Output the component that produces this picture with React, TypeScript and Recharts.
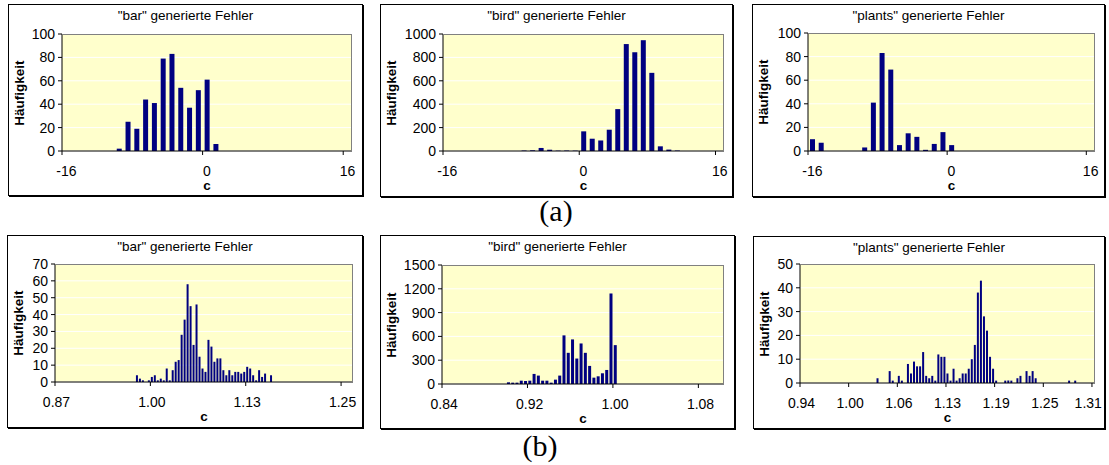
import { BarChart, Bar, XAxis, YAxis, CartesianGrid } from 'recharts';

const SANS = '"Liberation Sans", Arial, sans-serif';
const SERIF = '"Liberation Serif", "Times New Roman", serif';
const NAVY = '#000080';
const PLOT_BG = '#FFFFCC';

// (a) top row: one bin per integer value of c
const C_TOP = [-16, -15, -14, -13, -12, -11, -10, -9, -8, -7, -6, -5, -4, -3, -2, -1, 0, 1, 2, 3, 4, 5, 6, 7, 8, 9, 10, 11, 12, 13, 14, 15, 16];
const TOP_TICKS = [-16, 0, 16];
const TOP_TICK_LABELS = ['-16', '0', '16'];

const BAR_A = [0, 0, 0, 0, 0, 0, 2, 25, 19, 44, 41, 79, 83, 54, 37, 52, 61, 6, 0, 0, 0, 0, 0, 0, 0, 0, 0, 0, 0, 0, 0, 0, 0];
const BIRD_A = [0, 0, 0, 0, 0, 0, 0, 0, 0, 4, 6, 26, 11, 3, 4, 3, 168, 105, 90, 182, 358, 914, 843, 947, 668, 40, 12, 4, 0, 0, 0, 0, 0];
const PLANTS_A = [10, 7, 0, 0, 0, 0, 3, 41, 83, 69, 5, 15, 12, 1, 6, 16, 5, 0, 0, 0, 0, 0, 0, 0, 0, 0, 0, 0, 0, 0, 0, 0, 0];

const Y_TICKS_100 = [0, 20, 40, 60, 80, 100];
const Y_TICKS_1000 = [0, 200, 400, 600, 800, 1000];

// (b) bottom row: bins counted from the left of the axis, counts start at the first non-empty bin
const BAR_B_BINS = 100;
const BAR_B_FIRST = 27;
const BAR_B = [4, 2, 1, 0, 1, 3, 4, 1, 2, 1, 8, 1, 7, 12, 13, 28, 37, 58, 45, 22, 46, 15, 8, 6, 25, 21, 12, 14, 14, 7, 4, 7, 4, 6, 6, 5, 6, 9, 8, 4, 1, 7, 3, 5, 0, 4];
const BAR_B_TICKS = [0, 32, 64, 96];
const BAR_B_TICK_LABELS = ['0.87', '1.00', '1.13', '1.25'];
const BAR_B_Y = [0, 10, 20, 30, 40, 50, 60, 70];

const BIRD_B_BINS = 66;
const BIRD_B_FIRST = 15;
const BIRD_B = [21, 17, 17, 42, 38, 42, 127, 106, 42, 42, 17, 55, 106, 613, 393, 562, 321, 511, 393, 228, 80, 97, 135, 177, 1141, 490];
const BIRD_B_TICKS = [0, 20, 40, 60];
const BIRD_B_TICK_LABELS = ['0.84', '0.92', '1.00', '1.08'];
const BIRD_B_Y = [0, 300, 600, 900, 1200, 1500];

const PLANTS_B_BINS = 97;
const PLANTS_B_FIRST = 25;
const PLANTS_B = [
  2, 0, 0, 0, 5, 1, 0, 3, 1, 0,
  8, 4, 9, 7, 7, 13, 3, 2, 3, 1,
  12, 11, 11, 4, 1, 6, 1, 2, 4, 4,
  6, 10, 16, 38, 43, 28, 22, 11, 6, 1,
  0, 0, 1, 1, 1, 0, 2, 3, 0, 5,
  3, 5, 2, 0, 0, 0, 0, 0, 0, 0,
  0, 0, 0, 1, 0, 1,
];
const PLANTS_B_TICKS = [0, 16, 32, 48, 64, 80, 96];
const PLANTS_B_TICK_LABELS = ['0.94', '1.00', '1.06', '1.13', '1.19', '1.25', '1.31'];
const PLANTS_B_Y = [0, 10, 20, 30, 40, 50];

type Row = { c: number; n: number };
type Rect = { l: number; t: number; r: number; b: number };

const topRows = (counts: number[]): Row[] => C_TOP.map((c, i) => ({ c, n: counts[i] }));
const bottomRows = (bins: number, first: number, counts: number[]): Row[] =>
  Array.from({ length: bins }, (_, i) => ({ c: i, n: counts[i - first] ?? 0 }));

const TICK_FONT = 14;

function XTick(props: any) {
  const { x, payload, labels, axisY, band, maxX } = props;
  const label: string | undefined = labels.get(payload.value);
  if (label === undefined) return <g />;
  const bx = x - band / 2;
  // rough Arial width, keeps the last label inside the frame like Excel does
  const half = (label.replace(/[.\-]/g, '').length * 0.556 + (label.length - label.replace(/[.\-]/g, '').length) * 0.3) * TICK_FONT / 2;
  const tx = Math.min(x, maxX - half);
  return (
    <g>
      <line x1={bx} x2={bx} y1={axisY} y2={axisY + 4} stroke="#000" />
      <text x={tx} y={axisY + 24.5} textAnchor="middle" fontSize={TICK_FONT} fontFamily={SANS} fill="#000">
        {label}
      </text>
    </g>
  );
}

interface PanelProps {
  title: string;
  box: Rect;
  plot: Rect;
  rows: Row[];
  yTicks: number[];
  xTicks: number[];
  xLabels: string[];
  gap: string;
}

function Panel({ title, box, plot, rows, yTicks, xTicks, xLabels, gap }: PanelProps) {
  const w = box.r - box.l;
  const h = box.b - box.t;
  const left = plot.l - box.l;
  const top = plot.t - box.t;
  const pw = plot.r - plot.l;
  const ph = plot.b - plot.t;
  const axisY = top + ph;
  const Y_W = 40;
  const X_H = 30;
  const band = pw / rows.length;
  const labels = new Map(xTicks.map((t, i) => [t, xLabels[i]]));

  return (
    <div style={{ position: 'absolute', left: box.l, top: box.t, width: w, height: h, background: '#fff' }}>
      <BarChart
        width={w}
        height={h}
        data={rows}
        margin={{ top, left: left - Y_W, right: w - left - pw, bottom: h - axisY - X_H }}
        barCategoryGap={gap}
      >
        <CartesianGrid vertical={false} stroke="#fff" fill={PLOT_BG} fillOpacity={1} />
        <XAxis
          dataKey="c"
          type="category"
          height={X_H}
          interval={0}
          tickLine={false}
          axisLine={{ stroke: '#000' }}
          tick={(p: any) => <XTick {...p} labels={labels} axisY={axisY} band={band} maxX={w - 3} />}
        />
        <YAxis
          type="number"
          width={Y_W}
          domain={[0, yTicks[yTicks.length - 1]]}
          ticks={yTicks}
          interval={0}
          tickSize={4}
          tickMargin={3}
          tick={{ fontSize: TICK_FONT, fill: '#000', fontFamily: SANS }}
          tickLine={{ stroke: '#000' }}
          axisLine={{ stroke: '#000' }}
        />
        <Bar dataKey="n" fill={NAVY} isAnimationActive={false} />
      </BarChart>
      {/* plot area frame (top and right) */}
      <div
        style={{
          position: 'absolute',
          left,
          top,
          width: pw,
          height: ph,
          boxSizing: 'border-box',
          borderTop: '1px solid #808080',
          borderRight: '1px solid #808080',
          pointerEvents: 'none',
        }}
      />
      {/* chart frame */}
      <div
        style={{
          position: 'absolute',
          inset: 0,
          boxSizing: 'border-box',
          border: '1px solid #000',
          boxShadow: '1px 1px 0 #000',
          pointerEvents: 'none',
        }}
      />
      <div
        style={{
          position: 'absolute',
          left: 0,
          width: w,
          top: 12 - 7,
          fontFamily: SANS,
          fontSize: 13.5,
          lineHeight: '14px',
          textAlign: 'center',
          whiteSpace: 'nowrap',
        }}
      >
        {title}
      </div>
      <div
        style={{
          position: 'absolute',
          left: 11.5 - 60,
          top: top + ph / 2 - 8,
          width: 120,
          height: 16,
          lineHeight: '16px',
          fontFamily: SANS,
          fontSize: 13.5,
          fontWeight: 'bold',
          textAlign: 'center',
          transform: 'rotate(-90deg)',
        }}
      >
        Häufigkeit
      </div>
      <div
        style={{
          position: 'absolute',
          left: left + pw / 2 - 20,
          width: 40,
          top: axisY + 28.5,
          fontFamily: SANS,
          fontSize: 13.5,
          lineHeight: '12px',
          fontWeight: 'bold',
          textAlign: 'center',
        }}
      >
        c
      </div>
    </div>
  );
}

export default function App() {
  return (
    <div style={{ position: 'absolute', left: 0, top: 0, width: 1109, height: 465, background: '#fff', overflow: 'hidden' }}>
      <Panel
        title={'"bar" generierte Fehler'}
        box={{ l: 8, t: 4, r: 363, b: 196 }}
        plot={{ l: 62, t: 34, r: 352, b: 151 }}
        rows={topRows(BAR_A)}
        yTicks={Y_TICKS_100}
        xTicks={TOP_TICKS}
        xLabels={TOP_TICK_LABELS}
        gap="23%"
      />
      <Panel
        title={'"bird" generierte Fehler'}
        box={{ l: 380, t: 4, r: 733, b: 197 }}
        plot={{ l: 443, t: 34, r: 724, b: 151 }}
        rows={topRows(BIRD_A)}
        yTicks={Y_TICKS_1000}
        xTicks={TOP_TICKS}
        xLabels={TOP_TICK_LABELS}
        gap="23%"
      />
      <Panel
        title={'"plants" generierte Fehler'}
        box={{ l: 752, t: 4, r: 1105, b: 197 }}
        plot={{ l: 808, t: 33, r: 1095, b: 151 }}
        rows={topRows(PLANTS_A)}
        yTicks={Y_TICKS_100}
        xTicks={TOP_TICKS}
        xLabels={TOP_TICK_LABELS}
        gap="23%"
      />
      <div style={{ position: 'absolute', left: 506, width: 100, top: 196, fontFamily: SERIF, fontSize: 30, lineHeight: '30px', textAlign: 'center' }}>
        (a)
      </div>
      <Panel
        title={'"bar" generierte Fehler'}
        box={{ l: 7, t: 235, r: 363, b: 428 }}
        plot={{ l: 55, t: 264, r: 353, b: 382 }}
        rows={bottomRows(BAR_B_BINS, BAR_B_FIRST, BAR_B)}
        yTicks={BAR_B_Y}
        xTicks={BAR_B_TICKS}
        xLabels={BAR_B_TICK_LABELS}
        gap="16%"
      />
      <Panel
        title={'"bird" generierte Fehler'}
        box={{ l: 380, t: 235, r: 735, b: 429 }}
        plot={{ l: 442, t: 265, r: 724, b: 384 }}
        rows={bottomRows(BIRD_B_BINS, BIRD_B_FIRST, BIRD_B)}
        yTicks={BIRD_B_Y}
        xTicks={BIRD_B_TICKS}
        xLabels={BIRD_B_TICK_LABELS}
        gap="20%"
      />
      <Panel
        title={'"plants" generierte Fehler'}
        box={{ l: 753, t: 236, r: 1105, b: 429 }}
        plot={{ l: 800, t: 264, r: 1095, b: 383 }}
        rows={bottomRows(PLANTS_B_BINS, PLANTS_B_FIRST, PLANTS_B)}
        yTicks={PLANTS_B_Y}
        xTicks={PLANTS_B_TICKS}
        xLabels={PLANTS_B_TICK_LABELS}
        gap="16%"
      />
      <div style={{ position: 'absolute', left: 490, width: 100, top: 431, fontFamily: SERIF, fontSize: 30, lineHeight: '30px', textAlign: 'center' }}>
        (b)
      </div>
    </div>
  );
}
